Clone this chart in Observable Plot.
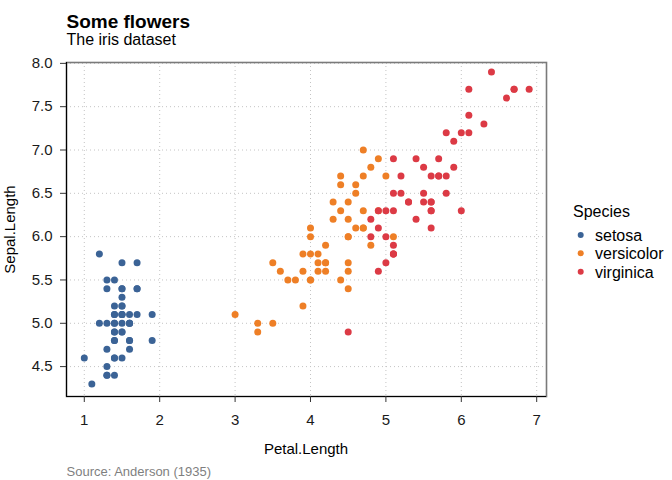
<!DOCTYPE html>
<html><head><meta charset="utf-8">
<script src="https://cdn.jsdelivr.net/npm/d3@7"></script>
<script src="https://cdn.jsdelivr.net/npm/@observablehq/plot@0.6"></script>
<style>
body{margin:0;background:#fff;font-family:"Liberation Sans",Arial,sans-serif;}
#wrap{position:relative;width:672px;height:480px;overflow:hidden;}
#wrap svg{position:absolute;left:0;top:0;}
</style></head><body><div id="wrap"></div>
<script>
const speciesNames = ["setosa", "versicolor", "virginica"];
const speciesColors = ["#3b6396", "#ee7f26", "#dc3a45"];

const setosaPetal = [1.4,1.4,1.3,1.5,1.4,1.7,1.4,1.5,1.4,1.5,1.5,1.6,1.4,1.1,1.2,1.5,1.3,1.4,1.7,1.5,1.7,1.5,1.0,1.7,1.9,1.6,1.6,1.5,1.4,1.6,1.6,1.5,1.5,1.4,1.5,1.2,1.3,1.4,1.3,1.5,1.3,1.3,1.3,1.6,1.9,1.4,1.6,1.4,1.5,1.4];
const setosaSepal = [5.1,4.9,4.7,4.6,5.0,5.4,4.6,5.0,4.4,4.9,5.4,4.8,4.8,4.3,5.8,5.7,5.4,5.1,5.7,5.1,5.4,5.1,4.6,5.1,4.8,5.0,5.0,5.2,5.2,4.7,4.8,5.4,5.2,5.5,4.9,5.0,5.5,4.9,4.4,5.1,5.0,4.5,4.4,5.0,5.1,4.8,5.1,4.6,5.3,5.0];
const versicolorPetal = [4.7,4.5,4.9,4.0,4.6,4.5,4.7,3.3,4.6,3.9,3.5,4.2,4.0,4.7,3.6,4.4,4.5,4.1,4.5,3.9,4.8,4.0,4.9,4.7,4.3,4.4,4.8,5.0,4.5,3.5,3.8,3.7,3.9,5.1,4.5,4.5,4.7,4.4,4.1,4.0,4.4,4.6,4.0,3.3,4.2,4.2,4.2,4.3,3.0,4.1];
const versicolorSepal = [7.0,6.4,6.9,5.5,6.5,5.7,6.3,4.9,6.6,5.2,5.0,5.9,6.0,6.1,5.6,6.7,5.6,5.8,6.2,5.6,5.9,6.1,6.3,6.1,6.4,6.6,6.8,6.7,6.0,5.7,5.5,5.5,5.8,6.0,5.4,6.0,6.7,6.3,5.6,5.5,5.5,6.1,5.8,5.0,5.6,5.7,5.7,6.2,5.1,5.7];
const virginicaPetal = [6.0,5.1,5.9,5.6,5.8,6.6,4.5,6.3,5.8,6.1,5.1,5.3,5.5,5.0,5.1,5.3,5.5,6.7,6.9,5.0,5.7,4.9,6.7,4.9,5.7,6.0,4.8,4.9,5.6,5.8,6.1,6.4,5.6,5.1,5.6,6.1,5.6,5.5,4.8,5.4,5.6,5.1,5.1,5.9,5.7,5.2,5.0,5.2,5.4,5.1];
const virginicaSepal = [6.3,5.8,7.1,6.3,6.5,7.6,4.9,7.3,6.7,7.2,6.5,6.4,6.8,5.7,5.8,6.4,6.5,7.7,7.7,6.0,6.9,5.6,7.7,6.3,6.7,7.2,6.2,6.1,6.4,7.2,7.4,7.9,6.4,6.3,6.1,7.7,6.3,6.4,6.0,6.9,6.7,6.9,5.8,6.8,6.7,6.7,6.3,6.5,6.2,5.9];

const xTicks = [1, 2, 3, 4, 5, 6, 7];
const yTicks = [4.5, 5.0, 5.5, 6.0, 6.5, 7.0, 7.5, 8.0];
const xDomain = [0.764, 7.13];
const yDomain = [4.155, 8.01];

const groups = [[setosaPetal, setosaSepal], [versicolorPetal, versicolorSepal], [virginicaPetal, virginicaSepal]];
const data = [];
groups.forEach(([p, s], k) => p.forEach((v, i) => data.push({petal: v, sepal: s[i], species: speciesNames[k]})));

const chart = Plot.plot({
  width: 672, height: 480,
  marginTop: 62, marginBottom: 84, marginLeft: 66, marginRight: 126,
  style: {fontFamily: "'Liberation Sans', Arial, sans-serif", fontSize: "15px", color: "#1a1a1a", background: "transparent"},
  x: {domain: xDomain, label: null},
  y: {domain: yDomain, label: null},
  color: {domain: speciesNames, range: speciesColors},
  marks: [
    Plot.gridX(xTicks, {stroke: "#c4c4c4", strokeOpacity: 1, strokeDasharray: "1,3"}),
    Plot.gridY(yTicks, {stroke: "#c4c4c4", strokeOpacity: 1, strokeDasharray: "1,3"}),
    Plot.frame({stroke: "#7a7a7a", strokeWidth: 1.6}),
    Plot.ruleX([xDomain[0]], {stroke: "#000", strokeWidth: 1.1}),
    Plot.ruleY([yDomain[0]], {stroke: "#000", strokeWidth: 1.1}),
    Plot.axisX(xTicks, {tickSize: 6, tickPadding: 12, stroke: "#333", fill: "#1a1a1a", fontSize: 15, tickFormat: d => String(d), label: null}),
    Plot.axisY(yTicks, {tickSize: 6, tickPadding: 8, stroke: "#333", fill: "#1a1a1a", fontSize: 15, tickFormat: d => d.toFixed(1), label: null}),
    Plot.dot(data, {x: "petal", y: "sepal", fill: "species", r: 3.5, stroke: null})
  ]
});
const wrap = document.getElementById("wrap");
wrap.appendChild(chart);

// overlay for titles, axis titles, caption, legend
const ov = d3.select(wrap).append("svg").attr("width", 672).attr("height", 480)
  .style("font-family", "'Liberation Sans', Arial, sans-serif");
ov.append("text").attr("x", 66.5).attr("y", 28.3).attr("font-size", 19).attr("font-weight", "bold").attr("fill", "#000").text("Some flowers");
ov.append("text").attr("x", 66.5).attr("y", 45).attr("font-size", 16).attr("fill", "#000").text("The iris dataset");
ov.append("text").attr("x", 306).attr("y", 454).attr("font-size", 15).attr("text-anchor", "middle").attr("fill", "#000").text("Petal.Length");
ov.append("text").attr("transform", "translate(15,229.5) rotate(-90)").attr("font-size", 15).attr("text-anchor", "middle").attr("fill", "#000").text("Sepal.Length");
ov.append("text").attr("x", 66.5).attr("y", 476).attr("font-size", 13).attr("fill", "#7f7f7f").text("Source: Anderson (1935)");
ov.append("text").attr("x", 573).attr("y", 216.5).attr("font-size", 16).attr("fill", "#000").text("Species");
speciesNames.forEach((n, i) => {
  const cy = 235 + i * 18.35;
  ov.append("circle").attr("cx", 580.7).attr("cy", cy).attr("r", 3).attr("fill", speciesColors[i]);
  ov.append("text").attr("x", 595).attr("y", cy + 5.8).attr("font-size", 16).attr("fill", "#000").text(n);
});
</script></body></html>
